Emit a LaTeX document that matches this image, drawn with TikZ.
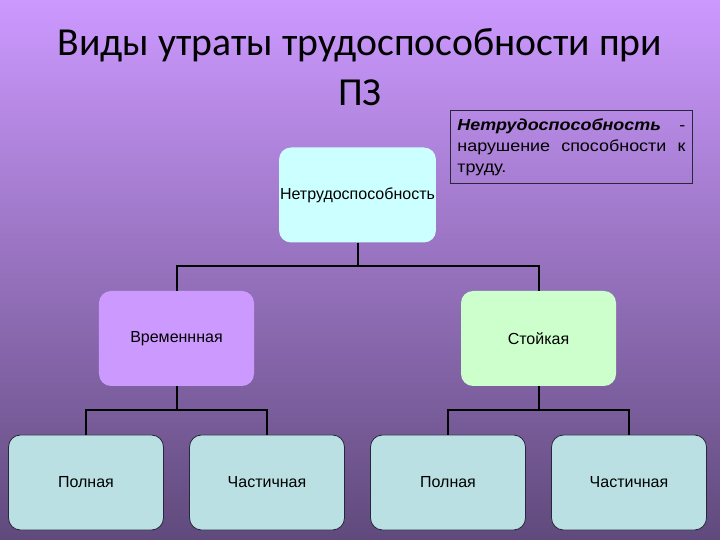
\documentclass[tikz,border=0pt]{standalone}
\usepackage{fontspec}
\setmainfont{Liberation Sans}
\newfontfamily\titlefont{Carlito}
\newfontfamily\widefont[FakeStretch=1.12]{Liberation Sans}
\usetikzlibrary{positioning}
\definecolor{bgtop}{RGB}{204,153,255}
\definecolor{bgbottom}{RGB}{96,74,124}
\definecolor{cyanbox}{RGB}{204,255,255}
\definecolor{lilacbox}{RGB}{204,153,255}
\definecolor{greenbox}{RGB}{204,255,204}
\definecolor{greybox}{RGB}{186,224,227}
\definecolor{edgegrey}{RGB}{40,40,60}
\begin{document}
\begin{tikzpicture}[x=1bp,y=1bp]
        \tikzstyle{line} = [line width=2bp, black]
        \tikzstyle{rec} = [rectangle, rounded corners=12bp, align=center,
        minimum width=155bp, minimum height=95bp, inner sep=1bp,
        font=\fontsize{16bp}{19bp}\selectfont]
        \tikzstyle{leaf} = [rec, fill=greybox, draw=edgegrey, line width=0.8bp]

        \useasboundingbox (0,0) rectangle (720,540);
        \shade[top color=bgtop, bottom color=bgbottom] (0,0) rectangle (720,540);

        \node(title) [align=center, font=\titlefont\fontsize{39.7bp}{50bp}\selectfont]
        at (360,473) {Виды утраты трудоспособности при\\ ПЗ};

        \node(defn) [draw=edgegrey, line width=0.8bp, anchor=north west,
        text width=228bp, inner xsep=7bp, minimum height=73bp, align=justify,
        font=\widefont\fontsize{16bp}{21bp}\selectfont] at (450,430)
        {\textbf{\textit{Нетрудоспособность}} -\linebreak нарушение способности
        к\linebreak труду.};

        \node(nonwork) [rec, fill=cyanbox] at (357.5,345) {Нетрудоспособность};
        \node(temp) [rec, fill=lilacbox, below of=nonwork, node distance=143.5bp,
        xshift=-181bp] {Временнная};
        \node(perm) [rec, fill=greenbox, below of=nonwork, node distance=143.5bp,
        xshift=181bp] {Стойкая};
        \node(tempfull) [leaf, below of=temp, node distance=144bp,
        xshift=-90.5bp] {Полная};
        \node(temppart) [leaf, below of=temp, node distance=144bp,
        xshift=90.5bp] {Частичная};
        \node(permfull) [leaf, below of=perm, node distance=144bp,
        xshift=-90.5bp] {Полная};
        \node(permpart) [leaf, below of=perm, node distance=144bp,
        xshift=90.5bp] {Частичная};

        \draw[line] (nonwork.south) -- ++(0,-23.5) -| (temp.north);
        \draw[line] (nonwork.south) -- ++(0,-23.5) -| (perm.north);
        \draw[line] (temp.south) -- ++(0,-24) -| (tempfull.north);
        \draw[line] (temp.south) -- ++(0,-24) -| (temppart.north);
        \draw[line] (perm.south) -- ++(0,-24) -| (permfull.north);
        \draw[line] (perm.south) -- ++(0,-24) -| (permpart.north);
    \end{tikzpicture}
\end{document}
